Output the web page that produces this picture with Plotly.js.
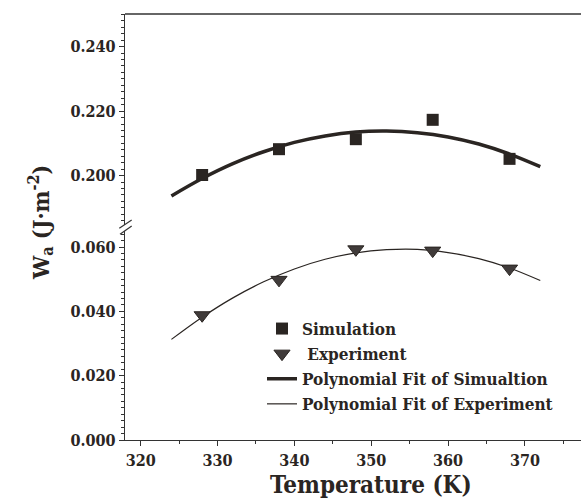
<!DOCTYPE html>
<html>
<head>
<meta charset="utf-8">
<script src="https://cdn.plot.ly/plotly-3.0.1.min.js"></script>
<style>html,body{margin:0;padding:0;background:#fff;}</style>
</head>
<body>
<div id="chart" style="width:581px;height:502px;"></div>
<script>
// ---- data ----
const temperature   = [328, 338, 348, 358, 368];
const simulation    = [0.2002, 0.2082, 0.2113, 0.2173, 0.2052];
const experiment    = [0.0388, 0.0498, 0.0593, 0.0589, 0.0533];
const fitTemperature = [324, 328, 332, 336, 340, 344, 348, 352, 356, 360, 364, 368, 372];
const fitSimulation  = [0.1937, 0.1991, 0.2037, 0.2074, 0.2103, 0.2123, 0.2135, 0.2138, 0.2133, 0.2120, 0.2098, 0.2067, 0.2028];
const fitExperiment  = [0.0313, 0.0382, 0.0442, 0.0492, 0.0532, 0.0562, 0.0582, 0.0592, 0.0593, 0.0583, 0.0564, 0.0535, 0.0496];
const seriesNames = ["Simulation", "\u00a0Experiment", "Polynomial Fit of Simualtion", "Polynomial Fit of Experiment"];
const xTickVals = [320, 330, 340, 350, 360, 370];
const yLowerTickVals = [0.000, 0.020, 0.040, 0.060];
const yUpperTickVals = [0.200, 0.220, 0.240];

const ink = "#2a2522";
const serif = "DejaVu Serif Condensed, DejaVu Serif";
const tickFont = {family: serif, size: 16, color: ink, weight: "bold"};

const data = [
  {x: fitTemperature, y: fitSimulation, yaxis: "y2", mode: "lines", name: seriesNames[2],
   line: {color: ink, width: 3.5, shape: "spline"}, legendrank: 3},
  {x: fitTemperature, y: fitExperiment, yaxis: "y", mode: "lines", name: seriesNames[3],
   line: {color: ink, width: 1.2, shape: "spline"}, legendrank: 4},
  {x: temperature, y: simulation, yaxis: "y2", mode: "markers", name: seriesNames[0],
   marker: {symbol: "square", size: 12, color: ink, line: {width: 0}}, legendrank: 1},
  {x: temperature, y: experiment, yaxis: "y", mode: "markers", name: seriesNames[1],
   marker: {symbol: "triangle-down", size: 14, color: "#403b3a", line: {width: 1, color: ink}}, legendrank: 2}
];

const axisCommon = {
  showline: true, linecolor: "#333", linewidth: 1.3, showgrid: false, zeroline: false,
  ticks: "outside", ticklen: 5, tickwidth: 1, tickcolor: "#333", tickfont: tickFont
};

const P = (px) => (px - 125) / 456;   // pixel -> paper x helper for decorations
const Q = (py) => (440 - py) / 426;   // pixel -> paper y helper for decorations

const layout = {
  width: 581, height: 502,
  margin: {l: 125, r: 0, t: 14, b: 62},
  paper_bgcolor: "#fff", plot_bgcolor: "#fff",
  showlegend: true,
  legend: {x: P(262), y: Q(311), xanchor: "left", yanchor: "top", bgcolor: "rgba(0,0,0,0)",
           font: {family: serif, size: 17, color: ink, weight: "bold"}, tracegroupgap: 0,
           itemwidth: 30},
  xaxis: Object.assign({}, axisCommon, {
    range: [317.96, 377.3], tickvals: xTickVals, anchor: "y",
    minor: {ticks: "outside", ticklen: 3, dtick: 5, tick0: 320, tickcolor: "#333"}
  }),
  yaxis: Object.assign({}, axisCommon, {
    domain: [0, 0.4906], range: [0, 0.065], tickvals: yLowerTickVals, tickformat: ".3f",
    anchor: "x", ticklabelstandoff: 0,
    minor: {ticks: "outside", ticklen: 3, dtick: 0.002, tick0: 0, tickcolor: "#333"}
  }),
  yaxis2: Object.assign({}, axisCommon, {
    domain: [0.5047, 1], range: [0.1847, 0.2501], tickvals: yUpperTickVals, tickformat: ".3f",
    anchor: "x", ticklabelstandoff: 0,
    minor: {ticks: "outside", ticklen: 3, dtick: 0.002, tick0: 0, tickcolor: "#333"}
  }),
  shapes: [
    {type: "line", xref: "paper", yref: "paper", x0: 0, x1: 1, y0: 1, y1: 1, line: {color: "#333", width: 1.3}},
    {type: "line", xref: "paper", yref: "paper", x0: P(119.3), y0: Q(228.3), x1: P(131.7), y1: Q(220), line: {color: "#333", width: 1.2}},
    {type: "line", xref: "paper", yref: "paper", x0: P(120), y0: Q(234.3), x1: P(131.7), y1: Q(226), line: {color: "#333", width: 1.2}}
  ],
  annotations: [
    {text: "Temperature (K)", xref: "paper", yref: "paper", x: P(371), y: Q(501),
     xanchor: "center", yanchor: "bottom", showarrow: false,
     font: {family: serif, size: 24, color: ink, weight: "bold"}},
    {text: "W<sub>a</sub> (J·m<sup>-2</sup>)", xref: "paper", yref: "paper", x: P(40), y: Q(223),
     xanchor: "center", yanchor: "middle", showarrow: false, textangle: -90,
     font: {family: serif, size: 23, color: ink, weight: "bold"}}
  ]
};

Plotly.newPlot("chart", data, layout, {displayModeBar: false, staticPlot: true});
</script>
</body>
</html>
